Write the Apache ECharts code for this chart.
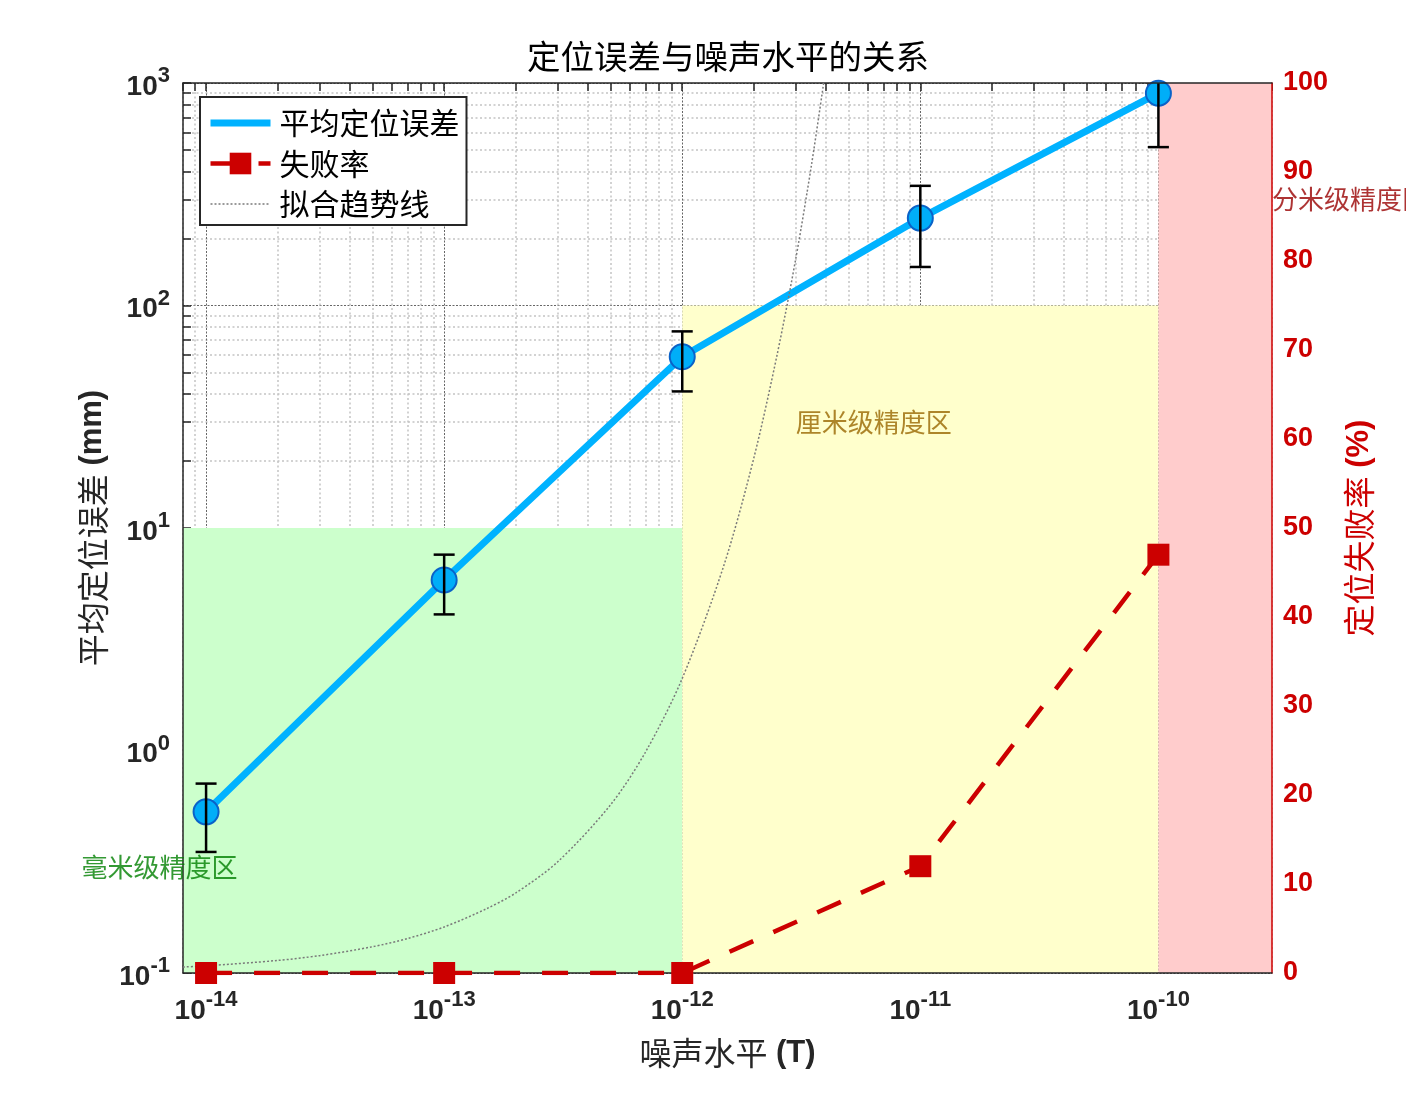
<!DOCTYPE html>
<html><head><meta charset="utf-8">
<script src="https://cdn.jsdelivr.net/npm/echarts@6/dist/echarts.min.js"></script>
<style>html,body{margin:0;padding:0;background:#fff}#c{width:1406px;height:1094px}</style>
</head><body><div id="c"></div>
<script>
// ---- data ----
const noiseLevels = [1e-14, 1e-13, 1e-12, 1e-11, 1e-10];
const meanError = [0.53, 5.84, 58.8, 247, 900];
const errorBar = [0.18, 1.75, 17.7, 98, 385];
const failureRate = [0, 0, 0, 12, 47];
const trendNoise = [0.8e-14, 1e-14, 2e-14, 3e-14, 5e-14, 7e-14, 1e-13, 1.5e-13, 2e-13, 3e-13, 5e-13, 7e-13, 1e-12, 1.5e-12, 2e-12, 2.5e-12, 3e-12, 3.5e-12, 4e-12];
const trendValue = [0.67, 0.8, 1.41, 1.95, 2.95, 3.87, 5.17, 7.2, 9.0, 12.5, 18.9, 24.8, 33.1, 45.9, 57.9, 69.4, 80.3, 91, 101.5];
const zoneNames = ['毫米级精度区', '厘米级精度区', '分米级精度区'];
const zoneStart = [0.8e-14, 1e-12, 1e-10];
const zoneEnd = [1e-12, 1e-10, 3e-10];
const zoneTop = [10, 100, 1000];
const zoneLabelX = [3e-15, 3e-12, 3e-10];
const zoneLabelY = [0.3, 30, 300];
const xMajorTicks = [1e-14, 1e-13, 1e-12, 1e-11, 1e-10];
const yMajorTicks = [0.1, 1, 10, 100, 1000];
const xRange = [0.8e-14, 3e-10];
const yRange = [0.1, 1000];
const rightRange = [0, 100];

// ---- styling ----
const zoneColors = ['#CCFFCC', '#FFFFCC', '#FFCCCC'];
const zoneTextColors = ['#008000', '#996600', '#990000'];
const CJK = 'Noto Sans CJK SC';
const LAT = 'Liberation Sans';
const AX = '#262626';
const RED = '#CC0000';

function minorTicks(range, nFrom, nTo) {
  const out = [];
  for (let n = nFrom; n <= nTo; n++) for (let k = 2; k <= 9; k++) {
    const v = Number(k + 'e' + n);
    if (v >= range[0] && v <= range[1]) out.push(v);
  }
  return out;
}
const xMinor = minorTicks(xRange, -15, -10);
const yMinor = minorTicks(yRange, -2, 2);
const xAll = xMajorTicks.concat(xMinor);
const yAll = yMajorTicks.concat(yMinor);

function supRich(color) {
  return {
    b: {fontFamily: LAT, fontWeight: 'bold', fontSize: 28, color: color, lineHeight: 36, verticalAlign: 'bottom'},
    s: {fontFamily: LAT, fontWeight: 'bold', fontSize: 22, color: color, verticalAlign: 'top'}
  };
}
function powLabel(v) {
  const e = Math.round(Math.log10(v));
  return '{b|10}{s|' + e + '}';
}
const majorSplit = {show: true, lineStyle: {color: '#666666', width: 1, type: [2, 1.5]}};
const minorSplit = {show: true, lineStyle: {color: '#c4c4c4', width: 1.5, type: [2, 2.5]}};

function logX(extra) {
  return Object.assign({type: 'log', logBase: 10, min: xRange[0], max: xRange[1], gridIndex: 0,
    axisLine: {show: false}, axisTick: {show: false}, axisLabel: {show: false}, splitLine: {show: false}, minorTick: {show: false}}, extra);
}
function logY(extra) {
  return Object.assign({type: 'log', logBase: 10, min: yRange[0], max: yRange[1], gridIndex: 0,
    axisLine: {show: false}, axisTick: {show: false}, axisLabel: {show: false}, splitLine: {show: false}, minorTick: {show: false}}, extra);
}
function nameRich(color) {
  return {c: {fontFamily: CJK, fontSize: 32, color: color}, l: {fontFamily: LAT, fontWeight: 'bold', fontSize: 31, color: color}};
}

const option = {
  animation: false,
  backgroundColor: '#fff',
  title: {
    text: '定位误差与噪声水平的关系', left: 728, top: 40, textAlign: 'center', padding: 0,
    textStyle: {fontFamily: CJK, fontSize: 33.5, fontWeight: 'normal', color: '#000'}
  },
  grid: {left: 183, right: 134, top: 83, bottom: 121, containLabel: false, outerBoundsMode: 'none'},
  legend: {
    data: [
      {name: '平均定位误差', itemStyle: {opacity: 0}, lineStyle: {width: 7}},
      {name: '失败率'},
      {name: '拟合趋势线', itemStyle: {opacity: 0}}
    ],
    orient: 'vertical', left: 200, top: 97, itemWidth: 60, itemHeight: 27, itemGap: 10.5,
    padding: [11, 7, 6, 7], borderColor: AX, borderWidth: 2, backgroundColor: '#fff', borderRadius: 0,
    lineStyle: {width: 'inherit'}, selectedMode: false, z: 20,
    textStyle: {fontFamily: CJK, fontSize: 30, color: '#000', padding: [0, 0, 0, 4]}
  },
  xAxis: [
    logX({position: 'bottom', z: 5,
      axisLine: {show: true, lineStyle: {color: AX, width: 1.5}},
      axisLabel: {show: true, customValues: xMajorTicks, margin: 16, formatter: powLabel, rich: supRich(AX)},
      name: '{c|噪声水平}{l| (T)}', nameLocation: 'middle', nameGap: 64,
      nameTextStyle: {rich: nameRich(AX)}
    }),
    logX({position: 'top', z: 5, axisLine: {show: true, lineStyle: {color: AX, width: 1.5}}}),
    logX({position: 'top', axisTick: {show: true, inside: true, length: 8, customValues: xAll, lineStyle: {color: AX, width: 1.5}}}),
    logX({position: 'bottom', axisTick: {show: false, customValues: xMajorTicks}, splitLine: majorSplit}),
    logX({position: 'bottom', axisTick: {show: false, customValues: xMinor}, splitLine: minorSplit})
  ],
  yAxis: [
    logY({position: 'left', z: 5,
      axisLine: {show: true, lineStyle: {color: AX, width: 1.5}},
      axisLabel: {show: true, customValues: yMajorTicks, margin: 13, formatter: powLabel, rich: supRich(AX)},
      name: '{c|平均定位误差}{l| (mm)}', nameLocation: 'middle', nameGap: 71,
      nameTextStyle: {rich: nameRich(AX)}
    }),
    {type: 'value', position: 'right', min: rightRange[0], max: rightRange[1], interval: 10, gridIndex: 0, z: 5,
      axisLine: {show: true, lineStyle: {color: RED, width: 1.5}}, axisTick: {show: false}, splitLine: {show: false},
      axisLabel: {show: true, margin: 11, fontFamily: LAT, fontWeight: 'bold', fontSize: 27, color: RED},
      name: '{c|定位失败率}{l| (%)}', nameLocation: 'middle', nameGap: 71,
      nameTextStyle: {rich: nameRich(RED)}
    },
    logY({position: 'left', axisTick: {show: true, inside: true, length: 8, customValues: yAll, lineStyle: {color: AX, width: 1.5}}}),
    logY({position: 'left', axisTick: {show: false, customValues: yMajorTicks}, splitLine: majorSplit}),
    logY({position: 'left', axisTick: {show: false, customValues: yMinor}, splitLine: minorSplit})
  ],
  series: [
    {
      name: 'zones', type: 'custom', xAxisIndex: 0, yAxisIndex: 0, z: 1, silent: true,
      encode: {x: [0, 1], y: 2},
      data: zoneStart.map((s, i) => [s, zoneEnd[i], zoneTop[i]]),
      renderItem: function (params, api) {
        const a = api.coord([api.value(0), yRange[0]]);
        const b = api.coord([api.value(1), api.value(2)]);
        return {type: 'rect', shape: {x: a[0], y: b[1], width: b[0] - a[0], height: a[1] - b[1]},
          style: {fill: zoneColors[params.dataIndex]}};
      }
    },
    {
      name: '平均定位误差', type: 'line', xAxisIndex: 0, yAxisIndex: 0, z: 3,
      data: noiseLevels.map((x, i) => [x, meanError[i]]),
      symbol: 'none', color: '#00B2FF',
      lineStyle: {color: '#00B2FF', width: 7}
    },
    {
      name: 'markers', type: 'scatter', xAxisIndex: 0, yAxisIndex: 0, z: 4,
      data: noiseLevels.map((x, i) => [x, meanError[i]]),
      symbol: 'circle', symbolSize: 25,
      itemStyle: {color: '#00AEF8', borderColor: '#0A62C8', borderWidth: 2, opacity: 1}
    },
    {
      name: 'errorbars', type: 'custom', xAxisIndex: 0, yAxisIndex: 0, z: 5, silent: true,
      encode: {x: 0, y: 1},
      data: noiseLevels.map((x, i) => [x, meanError[i], errorBar[i]]),
      renderItem: function (params, api) {
        const x = api.value(0), m = api.value(1), e = api.value(2);
        const cs = params.coordSys;
        const hi = api.coord([x, m + e]);
        const lo = api.coord([x, m - e]);
        const top = Math.max(hi[1], cs.y);
        const st = {stroke: '#000', lineWidth: 2.5};
        const ch = [{type: 'line', shape: {x1: hi[0], y1: top, x2: lo[0], y2: lo[1]}, style: st}];
        if (hi[1] >= cs.y) ch.push({type: 'line', shape: {x1: hi[0] - 10.5, y1: hi[1], x2: hi[0] + 10.5, y2: hi[1]}, style: st});
        ch.push({type: 'line', shape: {x1: lo[0] - 10.5, y1: lo[1], x2: lo[0] + 10.5, y2: lo[1]}, style: st});
        return {type: 'group', children: ch};
      }
    },
    {
      name: '拟合趋势线', type: 'line', xAxisIndex: 0, yAxisIndex: 1, z: 5,
      data: trendNoise.map((x, i) => [x, trendValue[i]]),
      symbol: 'none', smooth: 0.3, color: '#7a7a7a', clip: true,
      lineStyle: {color: '#7a7a7a', width: 1.5, type: [2, 2]}
    },
    {
      name: '失败率', type: 'line', xAxisIndex: 0, yAxisIndex: 1, z: 6,
      data: noiseLevels.map((x, i) => [x, failureRate[i]]),
      symbol: 'rect', symbolSize: 22, color: RED,
      itemStyle: {color: RED},
      lineStyle: {color: RED, width: 4.5, type: [26, 22]}
    },
    {
      name: 'zoneLabels', type: 'scatter', xAxisIndex: 0, yAxisIndex: 0, z: 7, clip: false, silent: true,
      symbolSize: 0, itemStyle: {color: 'transparent'},
      data: zoneLabelX.map((x, i) => ({value: [x, zoneLabelY[i]], label: {color: zoneTextColors[i]}})),
      label: {show: true, position: 'right', distance: 0, fontFamily: CJK, fontSize: 26,
        formatter: p => zoneNames[p.dataIndex]}
    }
  ]
};
const chart = echarts.init(document.getElementById('c'), null, {renderer: 'canvas'});
chart.setOption(option);
</script></body></html>
